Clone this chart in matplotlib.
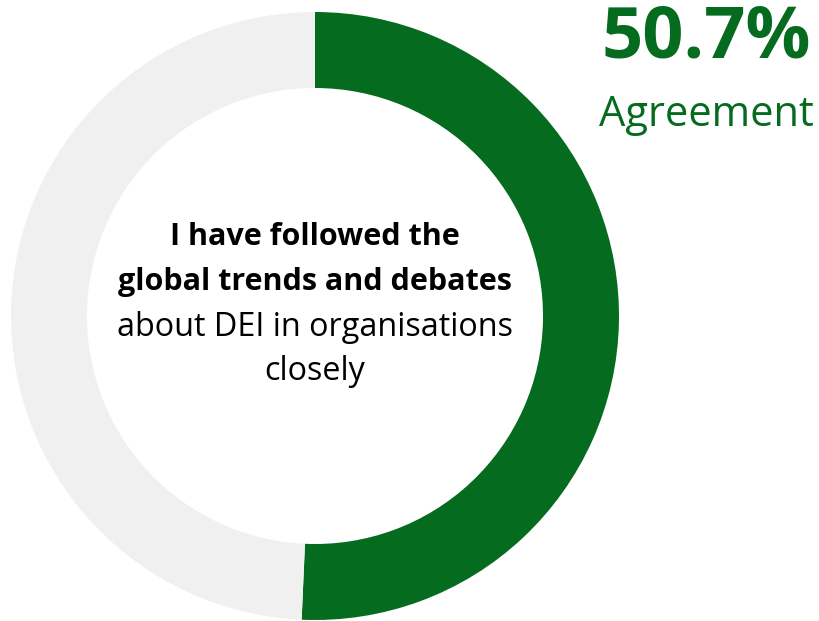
import matplotlib.pyplot as plt

# data
labels = ['Agree', 'Other']
values = [50.7, 49.3]
colors = ['#056b1e', '#f0f0f0']
headline = '50.7%'
sub = 'Agreement'
bold_lines = ['I have followed the', 'global trends and debates']
normal_lines = ['about DEI in organisations', 'closely']

W, H = 819, 621
fig = plt.figure(figsize=(W / 100, H / 100), dpi=100)
plt.rcParams['font.family'] = ['Open Sans', 'DejaVu Sans']

# donut: centre (315, 316) px, radius 304 px
cx, cy, R = 315, 316, 304
ax = fig.add_axes([(cx - R) / W, (H - cy - R) / H, 2 * R / W, 2 * R / H])
ax.pie(values, colors=colors, startangle=90, counterclock=False,
       wedgeprops=dict(width=0.25, edgecolor='none'))
ax.set_xlim(-1, 1)
ax.set_ylim(-1, 1)
ax.set_aspect('equal')
ax.axis('off')

# centre text
ys = [237, 282, 327, 372]
for i, t in enumerate(bold_lines + normal_lines):
    fig.text(cx / W, 1 - ys[i] / H, t, ha='center', va='center',
             fontsize=22 if i < 2 else 23.3,
             fontweight='bold' if i < 2 else 'normal', color='black')

fig.text(706 / W, 1 - 38 / H, headline, ha='center', va='center',
         fontsize=52, fontweight='bold', color=colors[0])
fig.text(706 / W, 1 - 115 / H, sub, ha='center', va='center',
         fontsize=30, color=colors[0])

fig.savefig('out.png', dpi=100)
